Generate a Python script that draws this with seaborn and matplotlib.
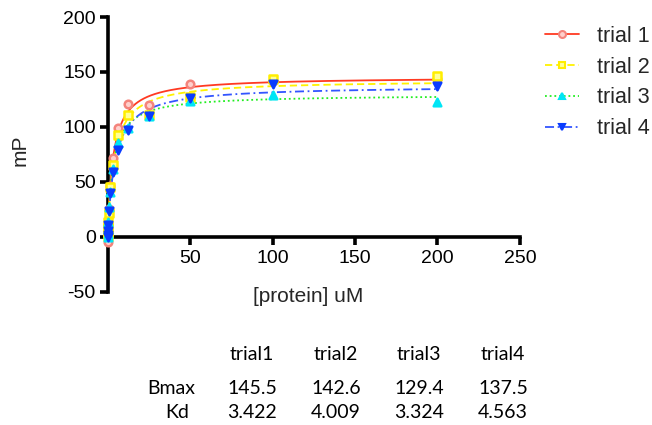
import numpy as np
import pandas as pd
import seaborn as sns
import matplotlib
matplotlib.use("Agg")
import matplotlib.pyplot as plt
from matplotlib.lines import Line2D

# ---- data ----
trials = ["trial 1", "trial 2", "trial 3", "trial 4"]
conc = [0, 0.0977, 0.195, 0.39, 0.78, 1.5625, 3.125, 6.25, 12.5, 25, 50, 100, 200]
mp_trial1 = [-5, 2, 6, 12, 25, 46, 72, 99, 121, 120, 139, 142, 144]
mp_trial2 = [1, 4, 8, 14, 22, 45, 65, 93, 111, 111, 127, 143.5, 146]
mp_trial3 = [0, 3, 7, 14, 27, 41, 62, 85, 99, 110, 124, 129, 123]
mp_trial4 = [0, 2, 5, 11, 24, 40, 59, 79, 97, 110, 126, 139, 137]
bmax = [145.5, 142.6, 129.4, 137.5]
kd = [3.422, 4.009, 3.324, 4.563]
table_cols = ["trial1", "trial2", "trial3", "trial4"]
bmax_txt = ["145.5", "142.6", "129.4", "137.5"]
kd_txt = ["3.422", "4.009", "3.324", "4.563"]
xticks = [50, 100, 150, 200, 250]
yticks = [-50, 0, 50, 100, 150, 200]

series = [mp_trial1, mp_trial2, mp_trial3, mp_trial4]

sns.set_theme(style="white")
plt.rcParams["font.family"] = ["Liberation Sans", "DejaVu Sans"]
plt.rcParams["axes.unicode_minus"] = False

fig = plt.figure(figsize=(6.52, 4.25), dpi=100)
ax = fig.add_axes([0.165, 0.313, 0.6325, 0.647])

line_colors = ["#FF3A22", "#FFF200", "#22EE22", "#3355FF"]
mk_edge = ["#F4847C", "#FFEE00", "#00E5F5", "#0A3CFF"]
mk_face = ["#FFD0CC", "#FFFF99", "#00E5F5", "#0A3CFF"]
markers = ["o", "s", "^", "v"]
styles = ["-", (0, (4, 2.2)), (0, (1, 1.6)), (0, (5, 2, 1, 2))]

# fitted one-site binding curves from the Bmax / Kd shown in the table
xfit = np.linspace(0, 200, 800)
for i in range(4):
    yfit = bmax[i] * xfit / (kd[i] + xfit)
    sns.lineplot(x=xfit, y=yfit, color=line_colors[i], linestyle=styles[i],
                 linewidth=1.3, ax=ax, zorder=3)

for i in range(4):
    df = pd.DataFrame({"conc": conc, "mP": series[i]})
    sns.scatterplot(data=df, x="conc", y="mP", marker=markers[i], s=30,
                    facecolor=mk_face[i], edgecolor=mk_edge[i], linewidth=1.8,
                    ax=ax, zorder=4 + i, clip_on=False)

ax.set_xlim(0, 250)
ax.set_ylim(-50, 200)
ax.spines["top"].set_visible(False)
ax.spines["right"].set_visible(False)
ax.spines["bottom"].set_position(("data", 0))
for s in ["left", "bottom"]:
    ax.spines[s].set_linewidth(2.6)
    ax.spines[s].set_color("black")
    ax.spines[s].set_capstyle("projecting")
ax.set_xticks(xticks)
ax.set_yticks(yticks)
ax.tick_params(axis="both", direction="out", length=5.5, width=2.6, color="black",
               labelsize=14, pad=3, labelcolor="black")
ax.tick_params(axis="x", bottom=True, pad=4)
ax.tick_params(axis="y", left=True)

ax.set_xlabel("[protein] uM", fontsize=15)
ax.set_ylabel("mP", fontsize=15)
ax.xaxis.set_label_coords(0.486, 0.018)
ax.yaxis.set_label_coords(-0.19, 0.516)
ax.grid(False)

handles = [Line2D([0], [0], color=line_colors[i], linestyle=styles[i], linewidth=1.3,
                  marker=markers[i], markersize=5, markerfacecolor=mk_face[i],
                  markeredgecolor=mk_edge[i], markeredgewidth=1.5)
           for i in range(4)]
fig.legend(handles, trials, loc="upper left", bbox_to_anchor=(545 / 652, 1 - 26 / 425),
           frameon=False, fontsize=15.5, handlelength=1.6, handletextpad=0.8,
           labelspacing=0.45, borderpad=0, borderaxespad=0)

# parameter table
tfont = dict(family=["Lato", "DejaVu Sans"], fontsize=14, color="black",
             ha="center", va="center")
col_x = [252, 336, 419, 503]
for j in range(4):
    fig.text(col_x[j] / 652, 1 - 355 / 425, table_cols[j], **tfont)
    fig.text(col_x[j] / 652, 1 - 389 / 425, bmax_txt[j], **tfont)
    fig.text(col_x[j] / 652, 1 - 412 / 425, kd_txt[j], **tfont)
fig.text(171 / 652, 1 - 389 / 425, "Bmax", **tfont)
fig.text(177 / 652, 1 - 412 / 425, "Kd", **tfont)

fig.savefig("out.png", dpi=100)
